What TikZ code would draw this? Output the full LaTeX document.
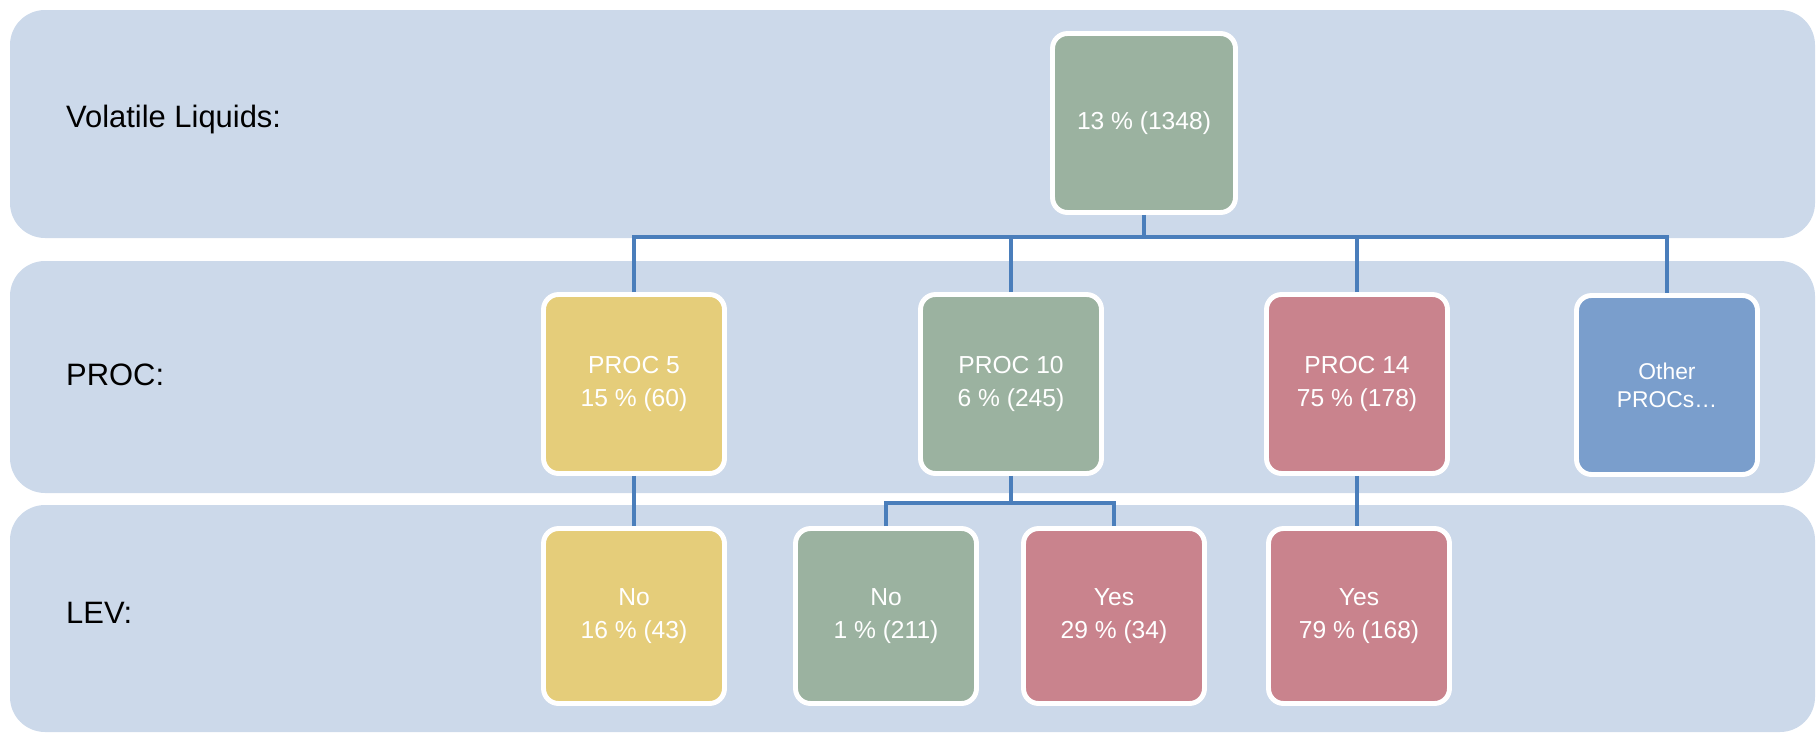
\documentclass[tikz,border=0pt]{standalone}
\usepackage{fontspec}
\setmainfont{Liberation Sans}
\usepackage{xcolor}
\usepackage{tikz}
\usetikzlibrary{positioning,calc}

\definecolor{bandblue}{HTML}{CCD9EA}
\definecolor{linkblue}{HTML}{4A7EBB}
\definecolor{boxgreen}{HTML}{9BB2A0}
\definecolor{boxyellow}{HTML}{E5CD7A}
\definecolor{boxred}{HTML}{C9838D}
\definecolor{boxblue}{HTML}{7A9ECC}

\begin{document}
\begin{tikzpicture}[x=0.02cm,y=-0.02cm,
    box/.style={draw=white, line width=2.8pt, rounded corners=0.3cm, minimum width=3.62cm, minimum height=3.58cm, text=white, align=center, font=\fontsize{14}{19}\selectfont},
    lev/.style={box, minimum height=3.5cm},
    link/.style={draw=linkblue, line width=2.8pt},
    band/.style={fill=bandblue, rounded corners=0.7cm},
    rowlabel/.style={anchor=base west, font=\fontsize{17.6}{20}\selectfont}]
    \useasboundingbox (0,0) rectangle (1820,734);
    % Bands
    \fill[band] (10,10) rectangle (1815,238);
    \fill[band] (10,261) rectangle (1815,493);
    \fill[band] (10,505) rectangle (1815,732);
    \node[rowlabel] (lblvol) at (60,127) {Volatile Liquids:};
    \node[rowlabel] (lblproc) at (60,385) {PROC:};
    \node[rowlabel] (lbllev) at (60,623) {LEV:};
    % Top level
    \node[box, fill=boxgreen, minimum width=3.66cm] (vol) at (1144,123) {13 \% (1348)};
    % PROC level
    \node[box, fill=boxyellow] (p5) at (634,384) {PROC 5\\15 \% (60)};
    \node[box, fill=boxgreen] (p10) at (1011,384) {PROC 10\\6 \% (245)};
    \node[box, fill=boxred] (p14) at (1357,384) {PROC 14\\75 \% (178)};
    \node[box, fill=boxblue, font=\fontsize{13}{16}\selectfont] (other) at (1667,385) {Other\\PROCs…};
    % LEV level
    \node[lev, fill=boxyellow] (l5no) at (634,616) {No\\16 \% (43)};
    \node[lev, fill=boxgreen] (l10no) at (886,616) {No\\1 \% (211)};
    \node[lev, fill=boxred] (l10yes) at (1114,616) {Yes\\29 \% (34)};
    \node[lev, fill=boxred] (l14yes) at (1359,616) {Yes\\79 \% (168)};
    % Connectors
    \coordinate (busA) at (1144,237);
    \coordinate (busB) at (1011,503);
    \draw[link] (vol.south) -- (busA);
    \draw[link] (p5.north) |- (busA) -| (other.north);
    \draw[link] (p10.north) -- (p10.north |- busA);
    \draw[link] (p14.north) -- (p14.north |- busA);
    \draw[link] (p5.south) -- (l5no.north);
    \draw[link] (p10.south) -- (busB);
    \draw[link] (l10no.north) |- (busB) -| (l10yes.north);
    \draw[link] (p14.south) -- (p14.south |- l14yes.north);
\end{tikzpicture}
\end{document}
